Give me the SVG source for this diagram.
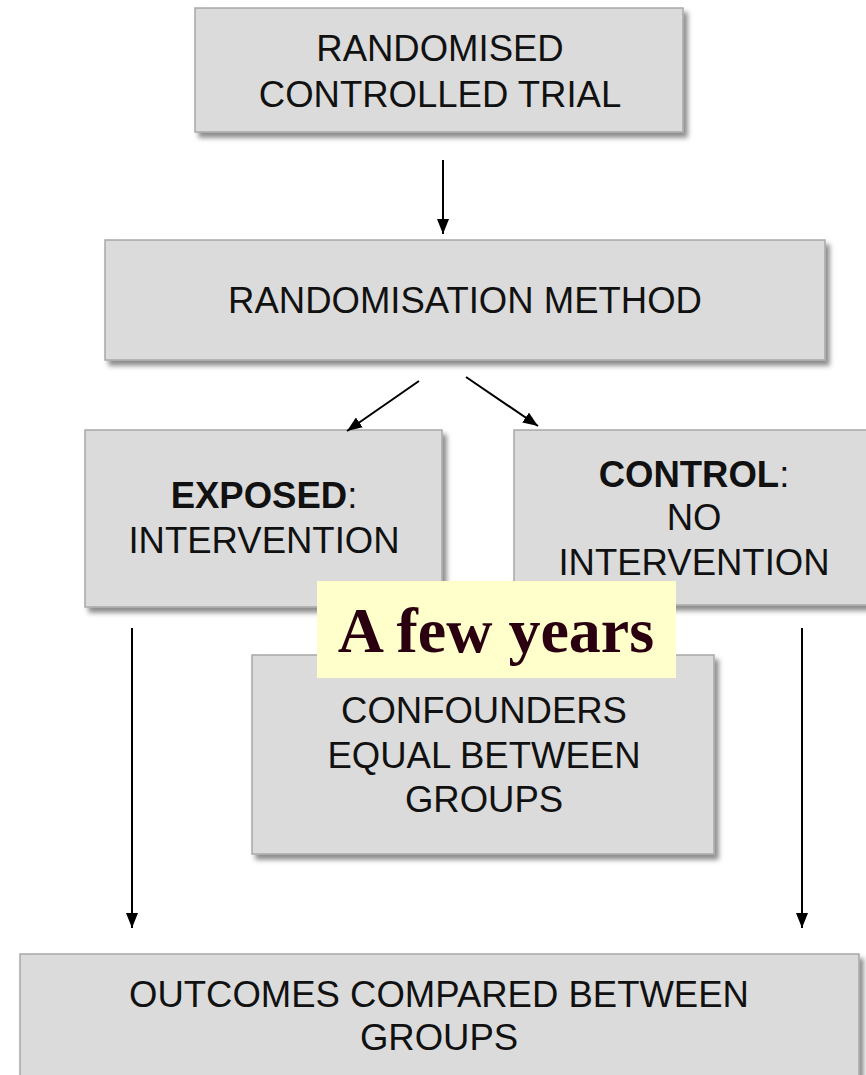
<svg xmlns="http://www.w3.org/2000/svg" width="866" height="1075" viewBox="0 0 866 1075">
  <style>
    .box { fill: #DBDBDB; stroke: #A8A8A8; stroke-width: 1.5; filter: url(#sh); }
    .t { font-family: "Liberation Sans", Arial, sans-serif; font-size: 36.5px; fill: #111; text-anchor: middle; }
    .b { font-weight: bold; }
    .conn { stroke: #000; stroke-width: 2; fill: none; marker-end: url(#ah); }
    .label { font-family: "Liberation Serif", "Times New Roman", serif; font-weight: bold; font-size: 64px; fill: #2A0010; text-anchor: middle; }
  </style>
  <defs>
    <filter id="sh" x="-10%" y="-10%" width="125%" height="130%">
      <feDropShadow dx="4" dy="5" stdDeviation="2.5" flood-color="#000" flood-opacity="0.45"/>
    </filter>
    <marker id="ah" markerUnits="userSpaceOnUse" markerWidth="16" markerHeight="12" refX="15" refY="6" orient="auto">
      <path d="M0,0 L15,6 L0,12 z" fill="#000"/>
    </marker>
  </defs>
  <rect width="866" height="1075" fill="#fff"/>

  <g id="rct">
    <rect class="box" x="195" y="8" width="488" height="124"/>
    <text class="t" x="440" y="61">RANDOMISED</text>
    <text class="t" x="440" y="107">CONTROLLED TRIAL</text>
  </g>

  <g id="method">
    <rect class="box" x="105" y="240" width="720" height="120"/>
    <text class="t" x="465" y="313">RANDOMISATION METHOD</text>
  </g>

  <g id="exposed">
    <rect class="box" x="85" y="430" width="357" height="177"/>
    <text class="t" x="264" y="508"><tspan class="b">EXPOSED</tspan>:</text>
    <text class="t" x="264" y="553">INTERVENTION</text>
  </g>

  <g id="control">
    <rect class="box" x="514" y="430" width="360" height="175"/>
    <text class="t" x="694" y="487"><tspan class="b">CONTROL</tspan>:</text>
    <text class="t" x="694" y="530">NO</text>
    <text class="t" x="694" y="575">INTERVENTION</text>
  </g>

  <g id="confounders">
    <rect class="box" x="252" y="655" width="462" height="199"/>
    <text class="t" x="484" y="723">CONFOUNDERS</text>
    <text class="t" x="484" y="768">EQUAL BETWEEN</text>
    <text class="t" x="484" y="812">GROUPS</text>
  </g>

  <g id="outcomes">
    <rect class="box" x="20" y="954" width="839" height="140"/>
    <text class="t" x="439" y="1007">OUTCOMES COMPARED BETWEEN</text>
    <text class="t" x="439" y="1050">GROUPS</text>
  </g>

  <g id="connectors">
    <line class="conn" x1="443" y1="160" x2="443" y2="234"/>
    <line class="conn" x1="419" y1="381" x2="347" y2="431"/>
    <line class="conn" x1="466" y1="377" x2="538" y2="426"/>
    <line class="conn" x1="132" y1="628" x2="132" y2="928"/>
    <line class="conn" x1="802" y1="628" x2="802" y2="928"/>
  </g>

  <g id="few-years">
    <rect x="317" y="581" width="359" height="97" fill="#FFFFCC"/>
    <text class="label" x="496" y="652">A few years</text>
  </g>
</svg>
